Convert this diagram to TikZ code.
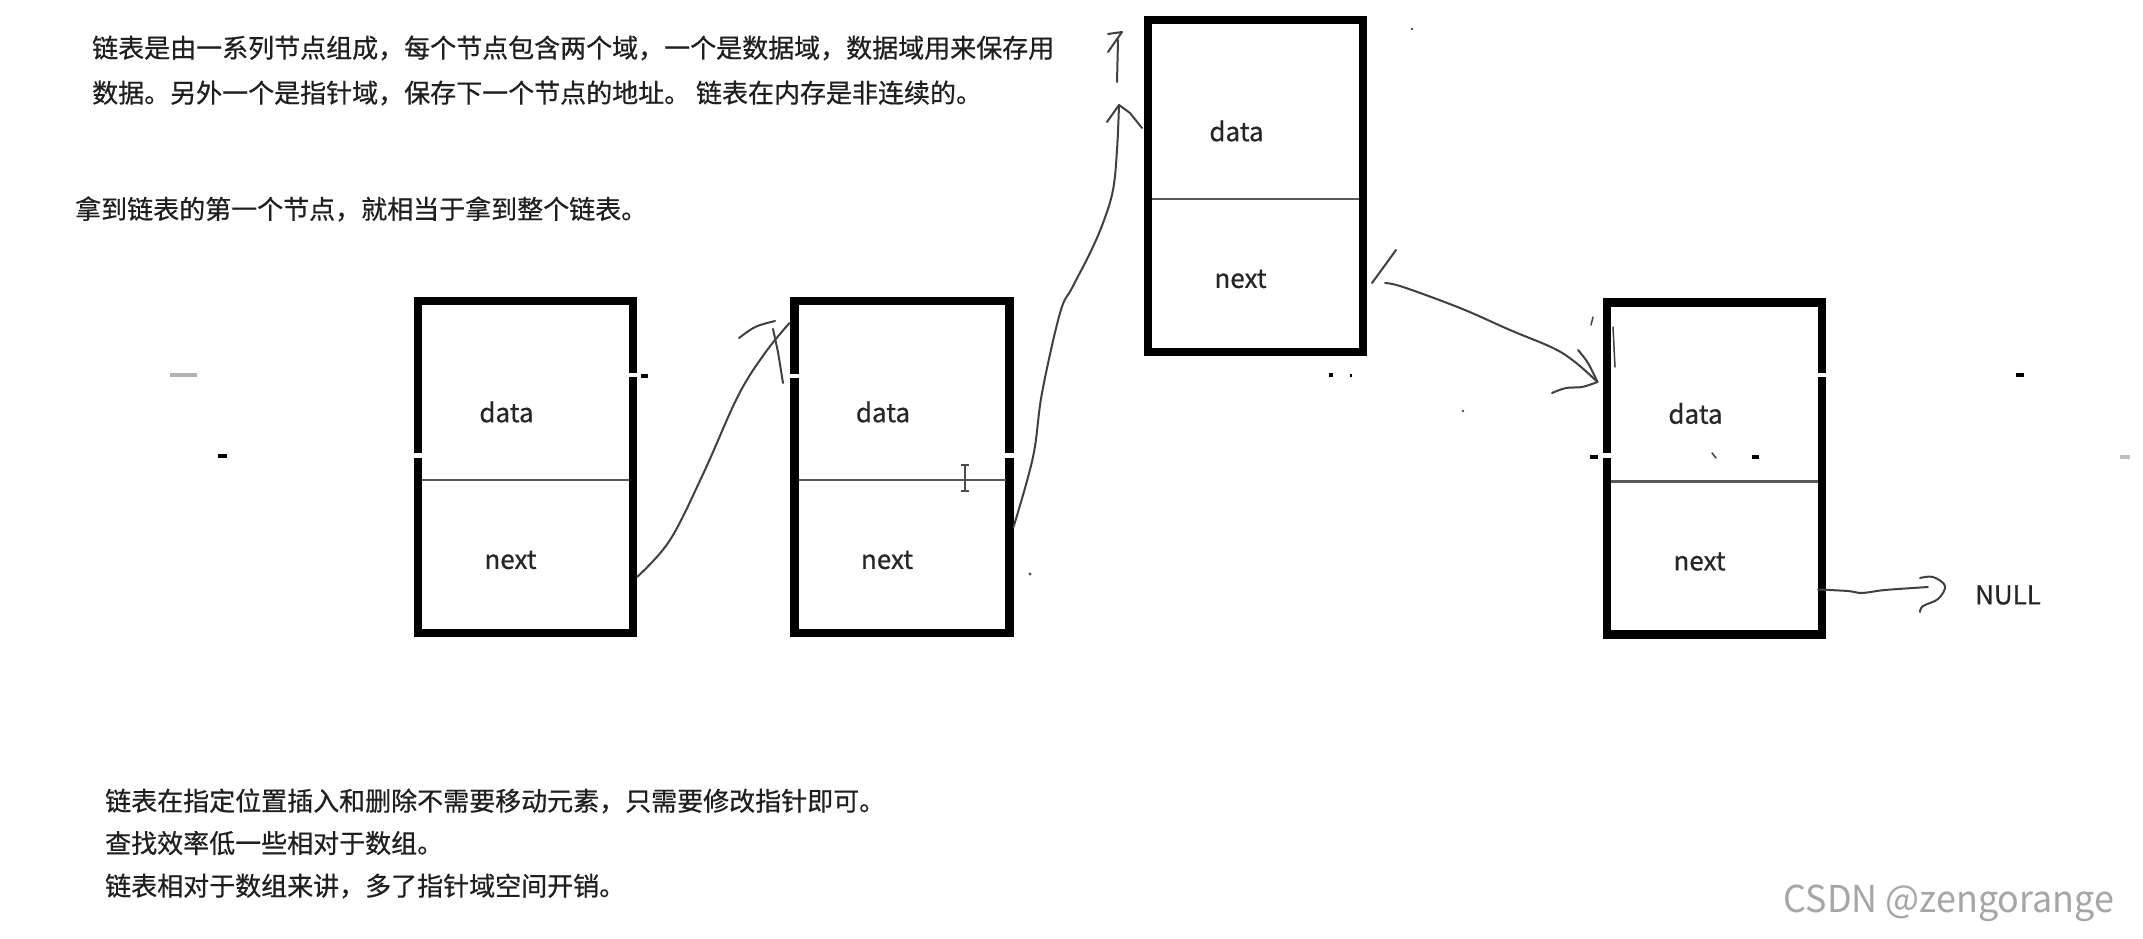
\documentclass[tikz,border=0pt]{standalone}
\usepackage{fontspec}
\setmainfont{Noto Sans CJK SC}
\newfontfamily\cjkheavy{Noto Sans CJK SC}[FakeBold=0.6]
\usetikzlibrary{calc}
\begin{document}
\begin{tikzpicture}[x=1pt,y=-1pt,
  box/.style={draw=black, line width=8.5pt, minimum width=215pt, minimum height=332pt, inner sep=0pt, outer sep=0pt},
  divider/.style={draw=black!65, line width=2.2pt},
  lbl/.style={font=\cjkheavy\fontsize{26}{28}\selectfont, text=black!85, inner sep=0pt},
  cjk/.style={font=\cjkheavy\fontsize{26}{30}\selectfont, text=black!88, anchor=west, inner sep=0pt},
  hand/.style={draw=black!75, line width=2pt, line cap=round, line join=round},
  gapw/.style={fill=white},
  speck/.style={fill=black}]
\useasboundingbox (0,0) rectangle (2143,939);
\fill[white] (0,0) rectangle (2143,939);

% texts
\node[cjk] (t1) at (92,48) {链表是由一系列节点组成，每个节点包含两个域，一个是数据域，数据域用来保存用};
\node[cjk] (t2) at (92,93) {数据。另外一个是指针域，保存下一个节点的地址。 链表在内存是非连续的。};
\node[cjk] (t3) at (75,209) {拿到链表的第一个节点，就相当于拿到整个链表。};
\node[cjk] (t4) at (105,801) {链表在指定位置插入和删除不需要移动元素，只需要修改指针即可。};
\node[cjk] (t5) at (105,843) {查找效率低一些相对于数组。};
\node[cjk] (t6) at (105,886) {链表相对于数组来讲，多了指针域空间开销。};
\node[font=\fontsize{37}{40}\selectfont, text=black!35, anchor=center, inner sep=0pt, xscale=0.97] (wm) at (1949,903) {CSDN @zengorange};

% boxes
\node[box] (b1) at (525.5,467) {};
\node[box] (b2) at (902,467) {};
\node[box] (b3) at (1255.5,186) {};
\node[box] (b4) at (1714.5,468.5) {};

\foreach \b in {b1,b2,b3,b4}{
  \draw[divider] ($(\b.west)+(4,13)$) -- ($(\b.east)+(-4,13)$);
  \node[lbl] (\b data) at ($(\b.center)+(-19,-55)$) {data};
  \node[lbl] (\b next) at ($(\b.center)+(-15,93)$) {next};
}

\node[font=\cjkheavy\fontsize{26}{28}\selectfont, text=black!85, inner sep=0pt] (null) at (2008,595) {NULL};

% glitch gaps on the borders
\fill[gapw] (411,453) rectangle (425,458);
\fill[gapw] (626,373) rectangle (640,377);
\fill[gapw] (788,374) rectangle (802,378);
\fill[gapw] (1002,453) rectangle (1016,458);
\fill[gapw] (1816,373) rectangle (1830,377);
\fill[gapw] (1599,453) rectangle (1613,458);
% specks
\fill[speck] (641,374) rectangle (648,378);
\fill[speck] (1590,455) rectangle (1598,459);
\fill[black!30] (170,373) rectangle (197,377);
\fill[speck] (218,454) rectangle (227,458);
\fill[speck] (2016,373) rectangle (2024,377);
\fill[black!25] (2120,455) rectangle (2130,459);
\fill[speck] (1329,373) rectangle (1333,377);
\fill[speck] (1350,374) rectangle (1352,377);
\fill[speck] (1752,455) rectangle (1759,459);
\draw[hand, line width=1.5pt] (1712,453) -- (1716,458);
\fill[black!70] (1412,29) circle (1.3);
\fill[black!70] (1463,411) circle (1.3);
\fill[black!70] (1030,574) circle (1.6);
% cursor
\draw[draw=black!70, line width=1.6pt] (965,466) -- (965,490) (961,465) -- (969,465) (961,491) -- (969,491);

% connector 1: b1 -> b2
\coordinate (s1) at ($(b1.east)+(4,110)$);
\coordinate (e1) at ($(b2.west)+(-5,-144)$);
\draw[hand] plot[smooth, tension=0.6] coordinates {(s1) (670,540) (704,472) (738,396) (765,353) (e1)};
\draw[hand] (739,338) .. controls (755,326) .. (775,321);
\draw[hand] (773,329) -- (778,352) -- (783,383);

% connector 2: b2 -> b3
\coordinate (s2) at ($(b2.east)+(4,60)$);
\coordinate (e2) at ($(b3.west)+(-29,-81)$);
\draw[hand] plot[smooth, tension=0.6] coordinates {(s2) (1033,457) (1042,393) (1060,313) (1072,288) (1090,253) (1103,223) (1113,190) (1117,150) (e2)};
\draw[hand] (1107,122) -- (e2) -- (1130,113) -- (1142,128);
\draw[hand] (1117,82) -- (1118,40);
\draw[hand] (1108,34) -- (1122,32) -- (1108,52);

% connector 3: b3 -> b4
\coordinate (s3) at ($(b3.east)+(22,97)$);
\coordinate (e3) at ($(b4.west)+(-9.5,-86.5)$);
\draw[hand] ($(b3.east)+(9,97)$) -- (1396,250);
\draw[hand] plot[smooth, tension=0.6] coordinates {(s3) (1403,287) (1460,308) (1510,330) (1553,348) (1575,362) (e3)};
\draw[hand] (1578,350) .. controls (1588,362) .. (e3);
\draw[hand] plot[smooth, tension=0.6] coordinates {(1552,393) (1566,388) (1582,387) (e3)};
\draw[hand, line width=1.5pt] (1593,317) -- (1591,325);
\draw[hand, line width=1.5pt] (1613,327) -- (1615,367);

% connector 4: b4 -> NULL
\coordinate (s4) at ($(b4.east)+(-4,121)$);
\coordinate (e4) at ($(null.west)+(-47,-8)$);
\draw[hand] plot[smooth, tension=0.5] coordinates {(s4) (1848,591) (1862,593) (1885,590) (e4)};
\draw[hand] plot[smooth, tension=0.6] coordinates {(1920,578) (1933,577) (1945,586) (1938,599) (1923,606) (1920,612)};
\end{tikzpicture}
\end{document}
